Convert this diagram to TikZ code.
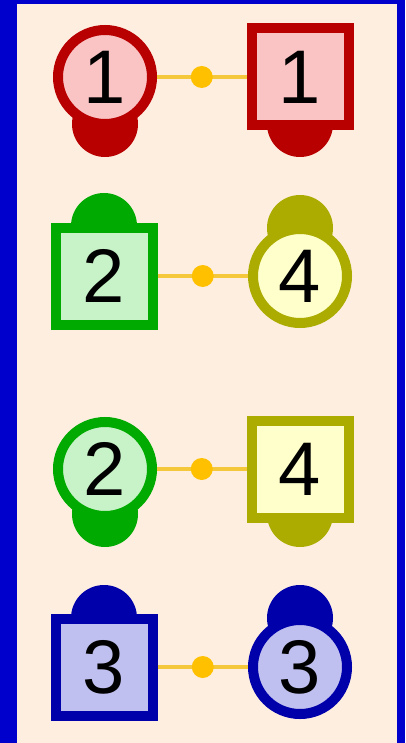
\documentclass[tikz,border=0pt]{standalone}
\usepackage{fontspec}
\setmainfont{Liberation Sans}
\definecolor{peach}{RGB}{253,238,224}
\definecolor{frameblue}{RGB}{0,0,204}
\definecolor{rdS}{RGB}{184,0,0}
\definecolor{rdF}{RGB}{250,196,196}
\definecolor{grS}{RGB}{0,170,0}
\definecolor{grF}{RGB}{200,242,200}
\definecolor{olS}{RGB}{172,172,0}
\definecolor{olF}{RGB}{255,255,204}
\definecolor{blS}{RGB}{0,0,170}
\definecolor{blF}{RGB}{192,192,240}
\definecolor{goldline}{RGB}{245,200,60}
\definecolor{golddot}{RGB}{255,192,0}
\tikzset{
  x=1pt, y=-1pt,
  numfont/.style={font=\fontsize{76}{80}\selectfont, text=black},
  circnode/.style={circle, inner sep=0pt, minimum size=94pt, line width=10pt, numfont},
  sqnode/.style={rectangle, inner sep=0pt, minimum size=97pt, line width=10pt, numfont},
  blob/.style={circle, inner sep=0pt, minimum size=66pt},
  conn/.style={draw=goldline, line width=3.5pt},
  cdot/.style={circle, fill=golddot, inner sep=0pt, minimum size=22pt},
}
\begin{document}
\begin{tikzpicture}
\useasboundingbox (0,0) rectangle (405,743);
\fill[peach] (0,0) rectangle (405,743);
\fill[frameblue] (0,0) rectangle (17,743);
\fill[frameblue] (397,0) rectangle (405,743);
\fill[frameblue] (0,0) rectangle (405,4);

% row 1
\node[blob, fill=rdS] (b1l) at (105,124) {};
\node[blob, fill=rdS] (b1r) at (300,124) {};
\node[circnode, draw=rdS, fill=rdF] (c1) at (105,77) {1};
\node[sqnode, draw=rdS, fill=rdF] (s1) at (300,77) {1};
\draw[conn] (c1) -- node[cdot] (d1) {} (s1);

% row 2
\node[blob, fill=grS] (b2l) at (104,226) {};
\node[blob, fill=olS] (b2r) at (300,228) {};
\node[sqnode, draw=grS, fill=grF] (s2) at (104,276) {2};
\node[circnode, draw=olS, fill=olF] (c4) at (300,276) {4};
\draw[conn] (s2) -- node[cdot] (d2) {} (c4);

% row 3
\node[blob, fill=grS] (b3l) at (105,514) {};
\node[blob, fill=olS] (b3r) at (300,514) {};
\node[circnode, draw=grS, fill=grF] (c2) at (105,469) {2};
\node[sqnode, draw=olS, fill=olF] (s4) at (300,469) {4};
\draw[conn] (c2) -- node[cdot] (d3) {} (s4);

% row 4
\node[blob, fill=blS] (b4l) at (104,618) {};
\node[blob, fill=blS] (b4r) at (300,618) {};
\node[sqnode, draw=blS, fill=blF] (s3) at (104,667) {3};
\node[circnode, draw=blS, fill=blF] (c3) at (300,667) {3};
\draw[conn] (s3) -- node[cdot] (d4) {} (c3);
\end{tikzpicture}
\end{document}
